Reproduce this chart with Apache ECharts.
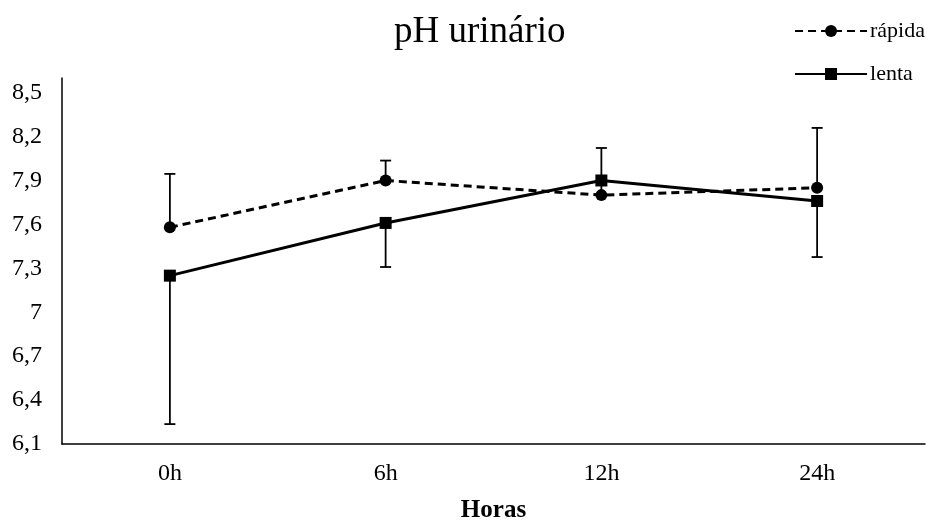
<!DOCTYPE html>
<html>
<head>
<meta charset="utf-8">
<script src="https://cdn.jsdelivr.net/npm/echarts@6/dist/echarts.min.js"></script>
<style>html,body{margin:0;padding:0;background:#fff}#c{width:934px;height:523px}</style>
</head>
<body>
<div id="c"></div>
<script>
var categories = ['0h', '6h', '12h', '24h'];
var rapida = [7.58, 7.90, 7.80, 7.85];
var lenta = [7.25, 7.61, 7.90, 7.76];
var rapidaErrHigh = [7.945, 8.036, 8.122, 8.259];
var lentaErrLow = [6.236, 7.309, null, 7.377];
var yTicks = {min: 6.1, max: 8.6, interval: 0.3};

var FONT = 'Liberation Serif';

function errData(vals, ends) {
  var out = [];
  for (var i = 0; i < vals.length; i++) {
    if (ends[i] != null) out.push([i, Math.min(vals[i], ends[i]), Math.max(vals[i], ends[i])]);
  }
  return out;
}
var errAll = errData(rapida, rapidaErrHigh).concat(errData(lenta, lentaErrLow));

var chart = echarts.init(document.getElementById('c'), null, {renderer: 'canvas'});
chart.setOption({
  animation: false,
  backgroundColor: '#fff',
  title: {
    text: 'pH urinário',
    left: 389, top: 9,
    textStyle: {fontFamily: FONT, fontSize: 37, fontWeight: 'normal', color: '#000'}
  },
  legend: {
    orient: 'vertical',
    right: 4, top: 15,
    itemWidth: 72, itemHeight: 15, itemGap: 21,
    data: ['rápida', 'lenta'],
    textStyle: {fontFamily: FONT, fontSize: 22, color: '#000', padding: [0, 0, 0, -2]}
  },
  grid: {left: 62, right: 9, top: 78, bottom: 79, containLabel: false, outerBoundsMode: 'none'},
  xAxis: {
    type: 'category',
    data: categories,
    boundaryGap: true,
    axisLine: {lineStyle: {color: '#000', width: 1.5}},
    axisTick: {show: false},
    axisLabel: {fontFamily: FONT, fontSize: 24, color: '#000', margin: 18},
    name: 'Horas',
    nameLocation: 'middle',
    nameGap: 54,
    nameTextStyle: {fontFamily: FONT, fontSize: 25, fontWeight: 'bold', color: '#000'}
  },
  yAxis: {
    type: 'value',
    min: yTicks.min, max: yTicks.max, interval: yTicks.interval,
    axisLine: {show: true, lineStyle: {color: '#000', width: 1.5}},
    axisTick: {show: false},
    splitLine: {show: false},
    axisLabel: {
      fontFamily: FONT, fontSize: 24, color: '#000', margin: 20,
      showMaxLabel: false,
      formatter: function (v) { return (Math.round(v * 10) / 10).toString().replace('.', ','); }
    }
  },
  series: [
    {
      type: 'custom',
      name: 'err',
      z: 1,
      data: errAll,
      renderItem: function (params, api) {
        var x = api.value(0);
        var lo = api.coord([x, api.value(1)]);
        var hi = api.coord([x, api.value(2)]);
        var hw = 5.5;
        var st = {stroke: '#000', lineWidth: 1.8};
        return {
          type: 'group',
          children: [
            {type: 'line', shape: {x1: lo[0], y1: lo[1], x2: hi[0], y2: hi[1]}, style: st},
            {type: 'line', shape: {x1: hi[0] - hw, y1: hi[1], x2: hi[0] + hw, y2: hi[1]}, style: st},
            {type: 'line', shape: {x1: lo[0] - hw, y1: lo[1], x2: lo[0] + hw, y2: lo[1]}, style: st}
          ]
        };
      }
    },
    {
      type: 'line', name: 'rápida', data: rapida, z: 3,
      symbol: 'circle', symbolSize: 12, showAllSymbol: true,
      lineStyle: {color: '#000', width: 3, type: [8, 5]},
      itemStyle: {color: '#000'}
    },
    {
      type: 'line', name: 'lenta', data: lenta, z: 4,
      symbol: 'rect', symbolSize: 12, showAllSymbol: true,
      lineStyle: {color: '#000', width: 3, type: 'solid'},
      itemStyle: {color: '#000'}
    }
  ]
});
</script>
</body>
</html>
